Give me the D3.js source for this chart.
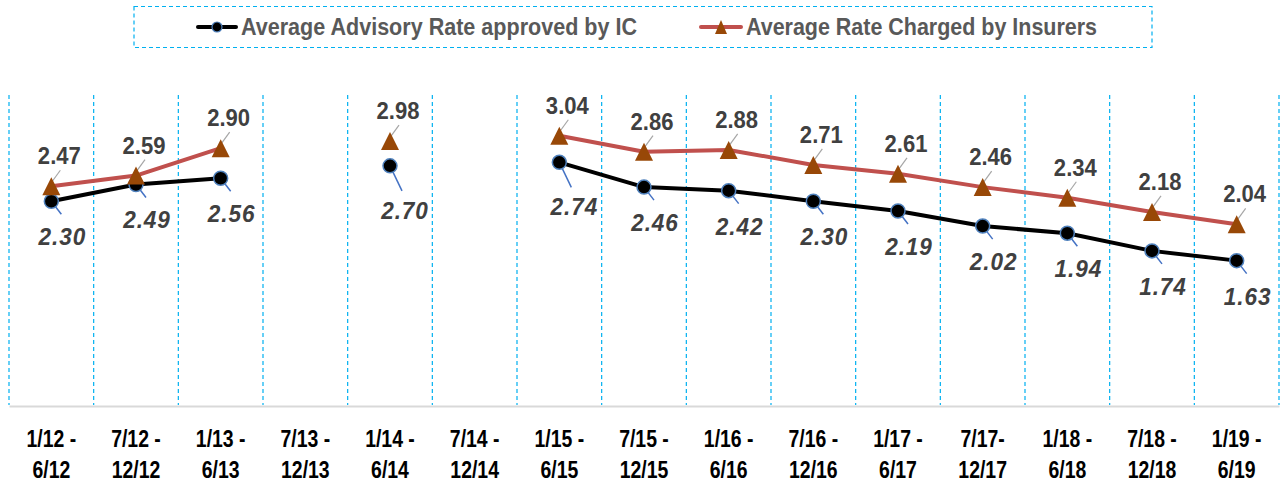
<!DOCTYPE html>
<html><head><meta charset="utf-8">
<script src="https://cdn.jsdelivr.net/npm/d3@7"></script>
<style>
html,body{margin:0;padding:0;background:#fff;}
svg{display:block;}
</style></head>
<body><svg id="chart" width="1282" height="485"></svg>
<script>
const categoriesLine1 = ["1/12 -","7/12 -","1/13 -","7/13 -","1/14 -","7/14 -","1/15 -","7/15 -","1/16 -","7/16 -","1/17 -","7/17-","1/18 -","7/18 -","1/19 -"];
const categoriesLine2 = ["6/12","12/12","6/13","12/13","6/14","12/14","6/15","12/15","6/16","12/16","6/17","12/17","6/18","12/18","6/19"];
const advisoryRate = [2.30,2.49,2.56,null,2.70,null,2.74,2.46,2.42,2.30,2.19,2.02,1.94,1.74,1.63];
const chargedRate = [2.47,2.59,2.90,null,2.98,null,3.04,2.86,2.88,2.71,2.61,2.46,2.34,2.18,2.04];
const seriesNames = ["Average Advisory Rate approved by IC","Average Rate Charged by Insurers"];
const yDomain = [0, 3.5];

(function(){
const svg = d3.select("#chart");
const pLeft = 9, pRight = 1279, pTop = 95, pBottom = 405;
const idx = d3.range(categoriesLine1.length);
const x = d3.scaleBand().domain(idx).range([pLeft, pRight]).padding(0);
const y = d3.scaleLinear().domain(yDomain).range([pBottom, pTop]);
const cx = i => x(i) + x.bandwidth()/2;

const sans = "'Liberation Sans',Arial,sans-serif";
// isolated points (previous category missing) get longer leader lines
const isolated = i => (i > 0 && advisoryRate[i-1] === null);

// vertical dashed gridlines at band edges
const edges = idx.map(i => x(i)).concat([pRight]);
svg.append("g").selectAll("line").data(edges).join("line")
  .attr("x1", d => d).attr("x2", d => d)
  .attr("y1", pTop).attr("y2", pBottom)
  .attr("stroke", "#00b0f0").attr("stroke-width", 1.2)
  .attr("stroke-dasharray", "4,3");

// x axis
const xAxis = d3.axisBottom(x).tickSize(0).tickFormat("");
const gx = svg.append("g").attr("transform", `translate(0,${pBottom+1})`).call(xAxis);
gx.select(".domain").attr("stroke", "#d9d9d9").attr("stroke-width", 2);
gx.selectAll(".tick").each(function(i){
  const t = d3.select(this);
  [[categoriesLine1[i], 41], [categoriesLine2[i], 72]].forEach(([s, dy]) => {
    t.append("g").attr("transform", `translate(0,${dy}) scale(0.81,1)`)
      .append("text").attr("fill","#000").attr("text-anchor","middle")
      .style("font-family", sans).style("font-weight","bold").style("font-size","24px")
      .text(s);
  });
});

// lines
const lineGen = vals => d3.line().defined(i => vals[i] !== null).x(cx).y(i => y(vals[i]))(idx);
svg.append("path").attr("d", lineGen(chargedRate)).attr("fill","none")
  .attr("stroke","#c0504d").attr("stroke-width",4).attr("stroke-linejoin","round");
svg.append("path").attr("d", lineGen(advisoryRate)).attr("fill","none")
  .attr("stroke","#000").attr("stroke-width",4).attr("stroke-linejoin","round");

const advIdx = idx.filter(i => advisoryRate[i] !== null);
const chgIdx = idx.filter(i => chargedRate[i] !== null);

// leader lines
svg.append("g").selectAll("line").data(advIdx).join("line")
  .attr("x1", cx).attr("y1", i => y(advisoryRate[i]))
  .attr("x2", i => cx(i) + (isolated(i) ? 12 : 10)).attr("y2", i => y(advisoryRate[i]) + (isolated(i) ? 25 : 13))
  .attr("stroke","#4472c4").attr("stroke-width",1.5);
svg.append("g").selectAll("line").data(chgIdx).join("line")
  .attr("x1", i => cx(i)+1).attr("y1", i => y(chargedRate[i]) - 5)
  .attr("x2", i => cx(i) + 9).attr("y2", i => y(chargedRate[i]) - 16)
  .attr("stroke","#a6a6a6").attr("stroke-width",1.2);

// markers
svg.append("g").selectAll("circle").data(advIdx).join("circle")
  .attr("cx", cx).attr("cy", i => y(advisoryRate[i])).attr("r", 7)
  .attr("fill","#000").attr("stroke","#4f81bd").attr("stroke-width",1.5);
const triPath = (w, h) => `M0,${-h/2}L${w/2},${h/2}L${-w/2},${h/2}Z`;
svg.append("g").selectAll("path").data(chgIdx).join("path")
  .attr("d", triPath(18, 18)).attr("transform", i => `translate(${cx(i)},${y(chargedRate[i])})`)
  .attr("fill","#984807");

// data labels
svg.append("g").selectAll("g").data(chgIdx).join("g")
  .attr("transform", i => `translate(${cx(i) + 8},${y(chargedRate[i]) - 22}) scale(0.92,1)`)
  .append("text").attr("text-anchor","middle").attr("fill","#404040")
  .style("font-family", sans).style("font-weight","bold").style("font-size","24px")
  .text(i => chargedRate[i].toFixed(2));
svg.append("g").selectAll("g").data(advIdx).join("g")
  .attr("transform", i => `translate(${cx(i) + (isolated(i) ? 15 : 11)},${y(advisoryRate[i]) + (isolated(i) ? 53 : 44)}) scale(0.94,1)`)
  .append("text").attr("text-anchor","middle").attr("fill","#404040")
  .style("font-family", sans).style("font-weight","bold").style("font-style","italic")
  .style("font-size","24px").style("letter-spacing","1px")
  .text(i => advisoryRate[i].toFixed(2));

// legend
const lg = svg.append("g");
lg.append("rect").attr("x",134).attr("y",6.5).attr("width",1018).attr("height",41)
  .attr("fill","none").attr("stroke","#00b0f0").attr("stroke-width",1.2).attr("stroke-dasharray","4,3");
lg.append("line").attr("x1",198).attr("x2",236).attr("y1",27).attr("y2",27)
  .attr("stroke","#000").attr("stroke-width",4).attr("stroke-linecap","round");
lg.append("circle").attr("cx",217).attr("cy",27).attr("r",5).attr("fill","#000").attr("stroke","#4f81bd").attr("stroke-width",1.2);
lg.append("text").attr("x",241).attr("y",35).attr("fill","#595959")
  .style("font-family", sans).style("font-weight","bold").style("font-size","24px")
  .attr("textLength",396).attr("lengthAdjust","spacingAndGlyphs")
  .text(seriesNames[0]);
lg.append("line").attr("x1",701).attr("x2",741).attr("y1",27).attr("y2",27)
  .attr("stroke","#c0504d").attr("stroke-width",4).attr("stroke-linecap","round");
lg.append("path").attr("d", triPath(12, 14)).attr("transform","translate(721,27)").attr("fill","#984807");
lg.append("text").attr("x",746).attr("y",35).attr("fill","#595959")
  .style("font-family", sans).style("font-weight","bold").style("font-size","24px")
  .attr("textLength",351).attr("lengthAdjust","spacingAndGlyphs")
  .text(seriesNames[1]);
})();
</script></body></html>
